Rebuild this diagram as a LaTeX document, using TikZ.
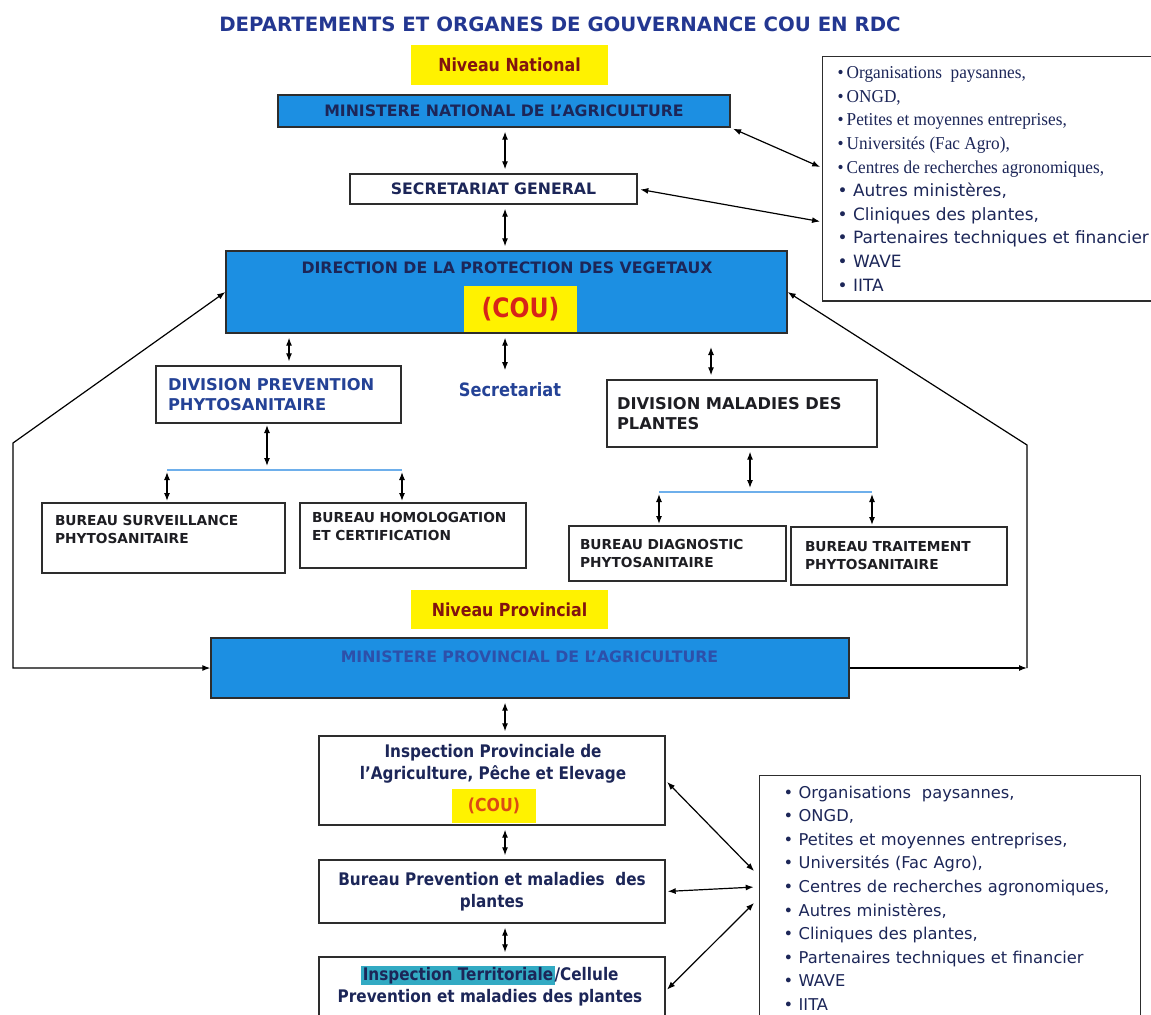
\documentclass[tikz,border=0pt]{standalone}
\usepackage{fontspec}
\setmainfont{DejaVu Sans}
\newfontfamily\narrowsans[FakeStretch=0.88]{DejaVu Sans}
\newfontfamily\listserif[FakeStretch=0.95]{Liberation Serif}
\usetikzlibrary{arrows.meta}
\usetikzlibrary{shadows}
\usetikzlibrary{calc}

\definecolor{boxblue}{RGB}{28,143,226}
\definecolor{hlyellow}{RGB}{255,242,0}
\definecolor{navytxt}{RGB}{28,38,88}
\definecolor{divblue}{RGB}{36,66,150}
\definecolor{provblue}{RGB}{45,80,170}
\definecolor{titleblue}{RGB}{35,55,145}
\definecolor{niveaured}{RGB}{130,20,15}
\definecolor{coured}{RGB}{215,35,25}
\definecolor{couorange}{RGB}{220,75,20}
\definecolor{barblue}{RGB}{110,175,235}
\definecolor{hlteal}{RGB}{50,170,195}
\definecolor{darktxt}{RGB}{30,30,35}
\definecolor{frame}{RGB}{45,45,45}

\tikzset{>={Latex[length=6pt,width=4.5pt]}}
\tikzset{dbl/.style={<->, line width=0.9pt, shorten <=3pt, shorten >=3pt}}
\tikzset{link/.style={line width=0.9pt}}
\tikzset{bar/.style={barblue, line width=1.6pt}}
\tikzset{bluebox/.style={draw=frame, fill=boxblue, line width=1pt, drop shadow={shadow xshift=1pt,shadow yshift=-1pt,opacity=0.35}}}
\tikzset{whitebox/.style={draw=frame, fill=white, line width=1pt, drop shadow={shadow xshift=1pt,shadow yshift=-1pt,opacity=0.35}}}
\tikzset{niveau/.style={fill=hlyellow, minimum width=147.75pt, minimum height=29.5pt, text=niveaured, font=\narrowsans\bfseries\fontsize{13.5}{16}\selectfont}}
\tikzset{coubox/.style={fill=hlyellow, text=coured, inner sep=0pt}}
\tikzset{titletxt/.style={text=titleblue, font=\bfseries\fontsize{14.8}{18}\selectfont}}
\tikzset{captxt/.style={text=navytxt, font=\bfseries\fontsize{11.8}{14}\selectfont}}
\tikzset{divtxt/.style={align=left, font=\bfseries\fontsize{12.2}{15.5}\selectfont}}
\tikzset{burtxt/.style={align=left, text=darktxt, font=\bfseries\fontsize{10.3}{13.5}\selectfont}}
\tikzset{provtxt/.style={align=center, text=navytxt, font=\narrowsans\bfseries\fontsize{13}{16.5}\selectfont}}
\tikzset{listbox/.style={draw=frame, fill=white, line width=1pt, align=left, text=navytxt, inner ysep=7.5pt, font=\fontsize{12.7}{17.7}\selectfont}}

\begin{document}
\begin{tikzpicture}[x=0.75pt,y=-0.75pt]
\useasboundingbox (0,0) rectangle (1151,1014);
\setlength{\fboxsep}{1pt}

\node[titletxt] (title) at (560,24) {DEPARTEMENTS ET ORGANES DE GOUVERNANCE COU EN RDC};

% niveau national
\node[niveau] (nnat) at (509.5,65) {Niveau National};
\node[bluebox, captxt, minimum width=339pt, minimum height=24pt] (mna) at (504,111) {MINISTERE NATIONAL DE L’AGRICULTURE};
\node[whitebox, captxt, minimum width=215.25pt, minimum height=22.5pt] (sg) at (493.5,189) {SECRETARIAT GENERAL};
\node[bluebox, minimum width=420.75pt, minimum height=61.5pt] (dpv) at (506.5,292) {};
\node[captxt] (dpvtxt) at (507,268) {DIRECTION DE LA PROTECTION DES VEGETAUX};
\node[coubox, minimum width=84.75pt, minimum height=34.5pt, anchor=south, font=\narrowsans\bfseries\fontsize{20}{24}\selectfont] (dpvcou) at (520.5,332) {(COU)};

\node[whitebox, divtxt, text=divblue, text width=165.75pt, minimum width=183.75pt, minimum height=42.75pt] (divprev) at (278.5,394.5) {DIVISION PREVENTION\\PHYTOSANITAIRE};
\node[text=divblue, font=\narrowsans\bfseries\fontsize{13.8}{16}\selectfont] (secr) at (510,390) {Secretariat};
\node[whitebox, divtxt, text=darktxt, text width=187.5pt, minimum width=202.5pt, minimum height=50.25pt] (divmal) at (742,413.5) {DIVISION MALADIES DES\\PLANTES};

\node[whitebox, burtxt, text width=162.75pt, minimum width=182.25pt, minimum height=52.5pt] (bsurv) at (163.5,538) {BUREAU SURVEILLANCE\\PHYTOSANITAIRE\\\mbox{}};
\node[whitebox, burtxt, text width=151.5pt, minimum width=169.5pt, minimum height=48.75pt] (bhom) at (413,535.5) {BUREAU HOMOLOGATION\\ET CERTIFICATION\\\mbox{}};
\node[whitebox, burtxt, text width=146.25pt, minimum width=162.75pt, minimum height=41.25pt] (bdiag) at (677.5,553.5) {BUREAU DIAGNOSTIC\\PHYTOSANITAIRE};
\node[whitebox, burtxt, text width=141pt, minimum width=162pt, minimum height=43.5pt] (btrait) at (899,556) {BUREAU TRAITEMENT\\PHYTOSANITAIRE};

% niveau provincial
\node[niveau] (nprov) at (509.5,609.5) {Niveau Provincial};
\node[bluebox, minimum width=478.5pt, minimum height=45pt] (mpa) at (530,668) {};
\node[captxt, text=provblue] (mpatxt) at (529.5,657) {MINISTERE PROVINCIAL DE L’AGRICULTURE};

\node[whitebox, minimum width=259.5pt, minimum height=66.75pt] (ipa) at (492,780.5) {};
\node[provtxt] (ipatxt) at (493,764) {Inspection Provinciale de\\l’Agriculture, Pêche et Elevage};
\node[coubox, text=couorange, minimum width=63pt, minimum height=25.5pt, font=\narrowsans\bfseries\fontsize{13.4}{16}\selectfont] (ipacou) at (494,806) {(COU)};
\node[whitebox, provtxt, minimum width=259.5pt, minimum height=47.25pt] (bpm) at (492,891.5) {Bureau Prevention et maladies\ \ des\\plantes};
\node[whitebox, minimum width=259.5pt, minimum height=51pt] (it) at (492,991) {};
\node[provtxt] (ittxt) at (490,986) {\colorbox{hlteal}{Inspection Territoriale}/Cellule\\Prevention et maladies des plantes};

% partenaires
\node[listbox, anchor=north west, inner xsep=11.25pt] (lista) at (822,56) {%
{\listserif\fontsize{13.6}{17.7}\selectfont\textbullet\,Organisations\ \ paysannes,}\\
{\listserif\fontsize{13.6}{17.7}\selectfont\textbullet\,ONGD,}\\
{\listserif\fontsize{13.6}{17.7}\selectfont\textbullet\,Petites et moyennes entreprises,}\\
{\listserif\fontsize{13.6}{17.7}\selectfont\textbullet\,Universités (Fac Agro),}\\
{\listserif\fontsize{13.6}{17.7}\selectfont\textbullet\,Centres de recherches agronomiques,}\\
\textbullet\ Autres ministères,\\
\textbullet\ Cliniques des plantes,\\
\textbullet\ Partenaires techniques et financier\\
\textbullet\ WAVE\\
\textbullet\ IITA};
\node[listbox, anchor=north west, inner xsep=18pt, text width=249.75pt, font=\fontsize{12.2}{17.7}\selectfont] (listb) at (759,775) {%
\textbullet\ Organisations\ \ paysannes,\\
\textbullet\ ONGD,\\
\textbullet\ Petites et moyennes entreprises,\\
\textbullet\ Universités (Fac Agro),\\
\textbullet\ Centres de recherches agronomiques,\\
\textbullet\ Autres ministères,\\
\textbullet\ Cliniques des plantes,\\
\textbullet\ Partenaires techniques et financier\\
\textbullet\ WAVE\\
\textbullet\ IITA};

% colonnes et barres
\coordinate (cmid) at (505,0);
\coordinate (cprev) at (289,0);
\coordinate (cmal) at (711,0);
\coordinate (cbarA) at (267,0);
\coordinate (cbarB) at (750,0);
\coordinate (barAl) at (167,470);
\coordinate (barAr) at (402,470);
\coordinate (barBl) at (659,492);
\coordinate (barBr) at (872,492);
\coordinate (lb) at (13,668);
\coordinate (lt) at (13,443);
\coordinate (rb) at (1027,668);
\coordinate (rt) at (1027,445);

\draw[dbl] (mna.south -| cmid) -- (sg.north -| cmid);
\draw[dbl] (sg.south -| cmid) -- (dpv.north -| cmid);
\draw[dbl] (dpv.south -| cprev) -- (divprev.north -| cprev);
\draw[dbl, shorten >=6pt] (dpv.south -| cmid) -- (secr.north -| cmid);
\draw[dbl, shorten <=10pt] (dpv.south -| cmal) -- (divmal.north -| cmal);

\draw[bar] (barAl) -- (barAr);
\draw[dbl, shorten <=1pt] (divprev.south -| cbarA) -- (barAl -| cbarA);
\draw[dbl, shorten <=1.5pt, shorten >=1pt] (barAl) -- (bsurv.north -| barAl);
\draw[dbl, shorten <=1.5pt, shorten >=1pt] (barAr) -- (bhom.north -| barAr);
\draw[bar] (barBl) -- (barBr);
\draw[dbl] (divmal.south -| cbarB) -- (barBl -| cbarB);
\draw[dbl, shorten <=1.5pt, shorten >=1pt] (barBl) -- (bdiag.north -| barBl);
\draw[dbl, shorten <=1.5pt, shorten >=1pt] (barBr) -- (btrait.north -| barBr);

\draw[dbl, shorten <=2pt, shorten >=1.5pt] (mna.south east) -- ($(lista.north west)!0.455!(lista.south west)$);
\draw[dbl, shorten <=2pt, shorten >=1.5pt] (sg.east) -- ($(lista.north west)!0.675!(lista.south west)$);

\draw[link, <->] (mpa.west) -- (lb) -- (lt) -- (dpv.west);
\draw[link, ->] (mpa.east) -- (rb);
\draw[link, ->] (rb) -- (rt) -- (dpv.east);

\draw[dbl] (mpa.south -| cmid) -- (ipa.north -| cmid);
\draw[dbl] (ipa.south -| cmid) -- (bpm.north -| cmid);
\draw[dbl] (bpm.south -| cmid) -- (it.north -| cmid);

\draw[dbl, shorten <=1.5pt, shorten >=1pt] (ipa.east) -- ([shift={(-4,97)}]listb.north west);
\draw[dbl, shorten <=1.5pt, shorten >=1pt] (bpm.east) -- ([shift={(-4,112)}]listb.north west);
\draw[dbl, shorten <=1.5pt, shorten >=1pt] (it.east) -- ([shift={(-4,127)}]listb.north west);
\end{tikzpicture}
\end{document}
